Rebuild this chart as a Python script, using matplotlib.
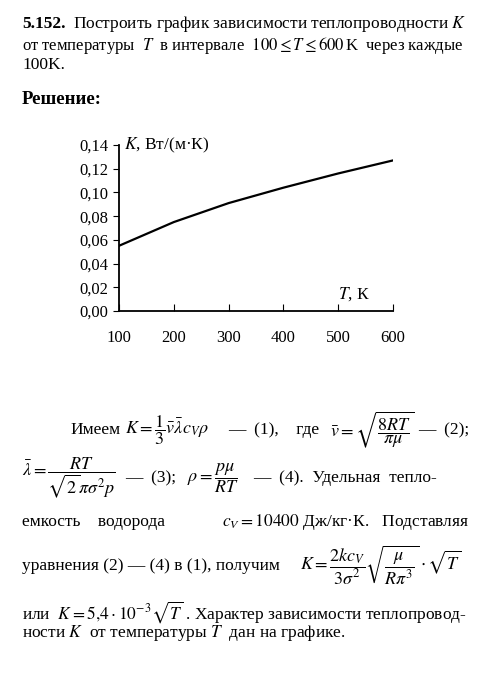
import matplotlib
matplotlib.use("Agg")
import matplotlib.pyplot as plt

T = [100, 200, 300, 400, 500, 600]
K = [0.055, 0.075, 0.091, 0.104, 0.116, 0.127]
yticks = [0.00, 0.02, 0.04, 0.06, 0.08, 0.10, 0.12, 0.14]

plt.rcParams['font.family'] = ['Liberation Serif', 'DejaVu Serif']
plt.rcParams['mathtext.fontset'] = 'stix'

W, H = 482, 698
fig = plt.figure(figsize=(W/100, H/100), dpi=100)

def t(x, y, s, size=12.5, **kw):
    fig.text(x/W, 1 - y/H, s, fontsize=size, va='center', ha='left', **kw)

t(22, 24, "5.152.", weight='bold')
t(73, 24, "Построить график зависимости теплопроводности $K$")
t(22, 45, "от температуры  $T$  в интервале  $100 \\leq T \\leq 600\\,$K  через каждые", size=12)
t(22, 65, "100K.")
t(22, 100, "Решение:", size=13.5, weight='bold')

t(70, 430, "Имеем")
t(125, 430, r"$K=\dfrac{1}{3}\bar{v}\bar{\lambda}c_V\rho$", size=13)
t(228, 430, "—  (1),    где")
t(330, 430, r"$\bar{v}=\sqrt{\dfrac{8RT}{\pi\mu}}$", size=13)
t(418, 430, "—  (2);")
t(22, 478, r"$\bar{\lambda}=\dfrac{RT}{\sqrt{2}\pi\sigma^2 p}$", size=13)
t(125, 478, "—  (3);")
t(187, 478, r"$\rho=\dfrac{p\mu}{RT}$", size=13)
t(253, 478, "—  (4).  Удельная  тепло-")
t(22, 522, "емкость    водорода")
t(222, 522, r"$c_V = 10400$ Дж/кг·К.   Подставляя")
t(22, 566, "уравнения (2) — (4) в (1), получим")
t(300, 566, r"$K=\dfrac{2kc_V}{3\sigma^2}\sqrt{\dfrac{\mu}{R\pi^3}}\cdot\sqrt{T}$", size=13)
t(22, 612, r"или  $K=5{,}4\cdot10^{-3}\sqrt{T}$ . Характер зависимости теплопровод-")
t(22, 633, "ности $K$  от температуры $T$  дан на графике.")

ax = fig.add_axes([119/W, 1 - 311/H, 274/W, 166/H])
ax.plot(T, K, color='black', lw=1.6)
ax.set_xlim(100, 600)
ax.set_ylim(0, 0.14)
ax.set_xticks(T)
ax.set_yticks(yticks)
ax.set_yticklabels([f"{v:.2f}".replace('.', ',') for v in yticks])
ax.spines['top'].set_visible(False)
ax.spines['right'].set_visible(False)
ax.spines['left'].set_linewidth(1.3)
ax.spines['bottom'].set_linewidth(1.3)
ax.tick_params(axis='x', direction='in', length=5, pad=14, labelsize=12)
ax.tick_params(axis='y', direction='out', length=4, labelsize=12)
ax.text(0.02, 1.0, r"$K$, Вт/(м·К)", transform=ax.transAxes, fontsize=12.5, va='center')
ax.text(0.80, 0.1, r"$T$, К", transform=ax.transAxes, fontsize=12.5, va='center')

fig.savefig("out.png", dpi=100)
